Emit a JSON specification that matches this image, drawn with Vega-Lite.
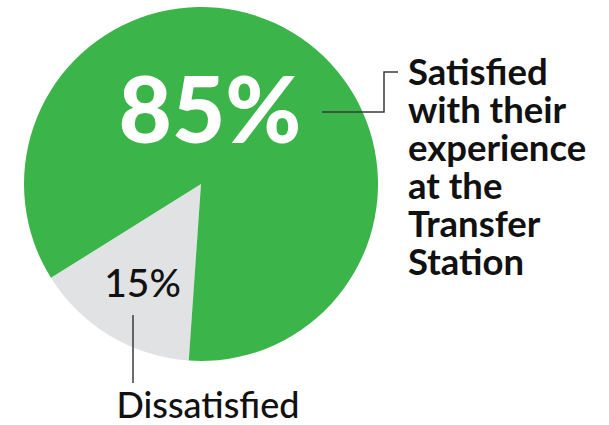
{
  "$schema": "https://vega.github.io/schema/vega-lite/v6.json",
  "width": 402,
  "height": 368,
  "autosize": {"type": "none"},
  "padding": {"left": 0, "top": 0, "right": 207, "bottom": 57},
  "background": "white",
  "config": {"view": {"stroke": null}, "font": "Lato"},
  "layer": [
    {
      "data": {"values": [
        {"category": "Dissatisfied", "share": 15},
        {"category": "Satisfied", "share": 85}
      ]},
      "mark": {"type": "arc", "outerRadius": 177},
      "encoding": {
        "theta": {"field": "share", "type": "quantitative", "stack": true, "scale": {"range": [3.211, 9.494]}},
        "order": {"field": "category", "sort": "ascending"},
        "color": {"field": "category", "type": "nominal", "legend": null,
          "scale": {"domain": ["Dissatisfied", "Satisfied"], "range": ["#E1E2E4", "#3BB54A"]}}
      }
    },
    {
      "data": {"values": [
        {"leader": "satisfied", "step": 1, "px": 322, "py": 112},
        {"leader": "satisfied", "step": 2, "px": 384, "py": 112},
        {"leader": "satisfied", "step": 3, "px": 384, "py": 72},
        {"leader": "satisfied", "step": 4, "px": 398, "py": 72},
        {"leader": "dissatisfied", "step": 1, "px": 133, "py": 315},
        {"leader": "dissatisfied", "step": 2, "px": 133, "py": 383}
      ]},
      "mark": {"type": "line", "color": "#3a3a3a", "strokeWidth": 1.5, "interpolate": "linear"},
      "encoding": {
        "x": {"field": "px", "type": "quantitative", "axis": null, "scale": {"domain": [0, 402], "nice": false, "zero": false}},
        "y": {"field": "py", "type": "quantitative", "axis": null, "scale": {"domain": [0, 368], "nice": false, "zero": false, "reverse": true}},
        "detail": {"field": "leader", "type": "nominal"},
        "order": {"field": "step", "type": "quantitative"}
      }
    },
    {
      "data": {"values": [
        {"label": "85%", "px": 210, "py": 143}
      ]},
      "mark": {"type": "text", "font": "Lato", "fontWeight": 900, "fontSize": 92, "color": "white", "align": "center", "baseline": "alphabetic"},
      "encoding": {
        "x": {"field": "px", "type": "quantitative"},
        "y": {"field": "py", "type": "quantitative"},
        "text": {"field": "label"}
      }
    },
    {
      "data": {"values": [
        {"label": "15%", "px": 142.5, "py": 297},
        {"label": "Dissatisfied", "px": 208, "py": 418}
      ]},
      "mark": {"type": "text", "font": "Lato", "fontWeight": 500, "color": "#111111", "align": "center", "baseline": "alphabetic"},
      "encoding": {
        "x": {"field": "px", "type": "quantitative"},
        "y": {"field": "py", "type": "quantitative"},
        "text": {"field": "label"},
        "size": {"field": "label", "type": "nominal", "legend": null, "scale": {"domain": ["15%", "Dissatisfied"], "range": [39, 36]}}
      }
    },
    {
      "data": {"values": [
        {"label": "Satisfied\nwith their\nexperience\nat the\nTransfer\nStation", "px": 408, "py": 85}
      ]},
      "mark": {"type": "text", "font": "Lato", "fontWeight": "bold", "fontSize": 36.5, "lineHeight": 38, "lineBreak": "\n", "color": "#111111", "align": "left", "baseline": "alphabetic"},
      "encoding": {
        "x": {"field": "px", "type": "quantitative"},
        "y": {"field": "py", "type": "quantitative"},
        "text": {"field": "label"}
      }
    }
  ]
}
